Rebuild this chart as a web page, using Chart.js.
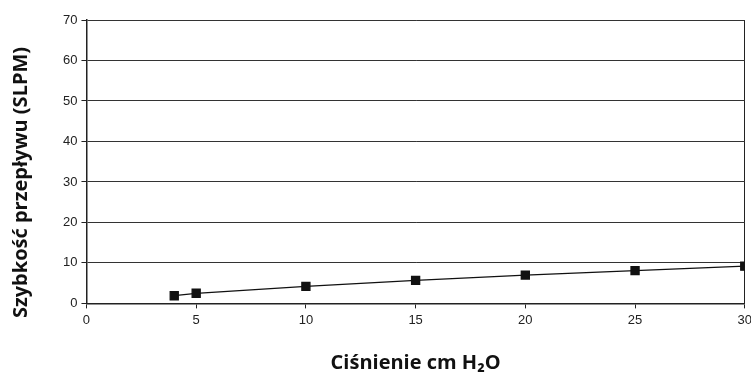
<!DOCTYPE html>
<html>
<head>
<meta charset="utf-8">
<script src="https://cdn.jsdelivr.net/npm/chart.js@4/dist/chart.umd.min.js"></script>
<style>
    html, body { margin: 0; padding: 0; background: #fff; overflow: hidden; }
    #wrap { width: 751px; height: 377px; overflow: hidden; }
</style>
</head>
<body>
<div id="wrap"><canvas id="flowChart" width="756" height="377"></canvas></div>
<script>
// Chart data
const pressure = [4, 5, 10, 15, 20, 25, 30];
const flowRate = [1.9, 2.5, 4.2, 5.7, 7.0, 8.1, 9.2];
const xTicks = [0, 5, 10, 15, 20, 25, 30];
const yTicks = [0, 10, 20, 30, 40, 50, 60, 70];

const xTitle = 'Ciśnienie cm H₂O';
// trailing spaces push the rotated title a bit lower, as in the original
const yTitle = 'Szybkość przepływu (SLPM)' + '\u00a0'.repeat(8);

const tickFont = { family: '"Liberation Sans", Arial, sans-serif', size: 13 };
const titleFont = { family: '"Open Sans", sans-serif', size: 20, weight: 'bold' };

const ctx = document.getElementById('flowChart');

new Chart(ctx, {
    type: 'scatter',
    data: {
        datasets: [{
            data: pressure.map((x, i) => ({ x: x, y: flowRate[i] })),
            showLine: true,
            borderColor: '#111',
            borderWidth: 1.3,
            backgroundColor: '#111',
            pointStyle: 'rect',
            pointRadius: 5.7,
            pointHoverRadius: 5.7
        }]
    },
    options: {
        responsive: false,
        animation: false,
        layout: {
            padding: { left: 9, right: 0, top: 20, bottom: 2 }
        },
        plugins: {
            legend: { display: false },
            tooltip: { enabled: false }
        },
        scales: {
            x: {
                type: 'linear',
                min: 0,
                max: 30,
                afterBuildTicks: axis => {
                    axis.ticks = xTicks.map(v => ({ value: v }));
                },
                grid: {
                    color: c => (c.tick && c.tick.value === 30 ? '#222' : 'rgba(0,0,0,0)'),
                    tickColor: '#222',
                    tickLength: 5,
                    lineWidth: 1
                },
                border: { color: '#222', width: 1.5 },
                ticks: { color: '#222', font: tickFont, maxRotation: 0, padding: 4 },
                title: {
                    display: true,
                    text: xTitle,
                    color: '#111',
                    font: titleFont,
                    padding: { top: 19, bottom: 0 }
                }
            },
            y: {
                min: 0,
                max: 70,
                afterBuildTicks: axis => {
                    axis.ticks = yTicks.map(v => ({ value: v }));
                },
                grid: {
                    color: '#333',
                    tickColor: '#222',
                    tickLength: 5,
                    lineWidth: 1
                },
                border: { color: '#222', width: 1.5 },
                ticks: { color: '#222', font: tickFont, padding: 4 },
                title: {
                    display: true,
                    text: yTitle,
                    color: '#111',
                    font: titleFont,
                    padding: { top: 0, bottom: 26 }
                }
            }
        }
    }
});
</script>
</body>
</html>
